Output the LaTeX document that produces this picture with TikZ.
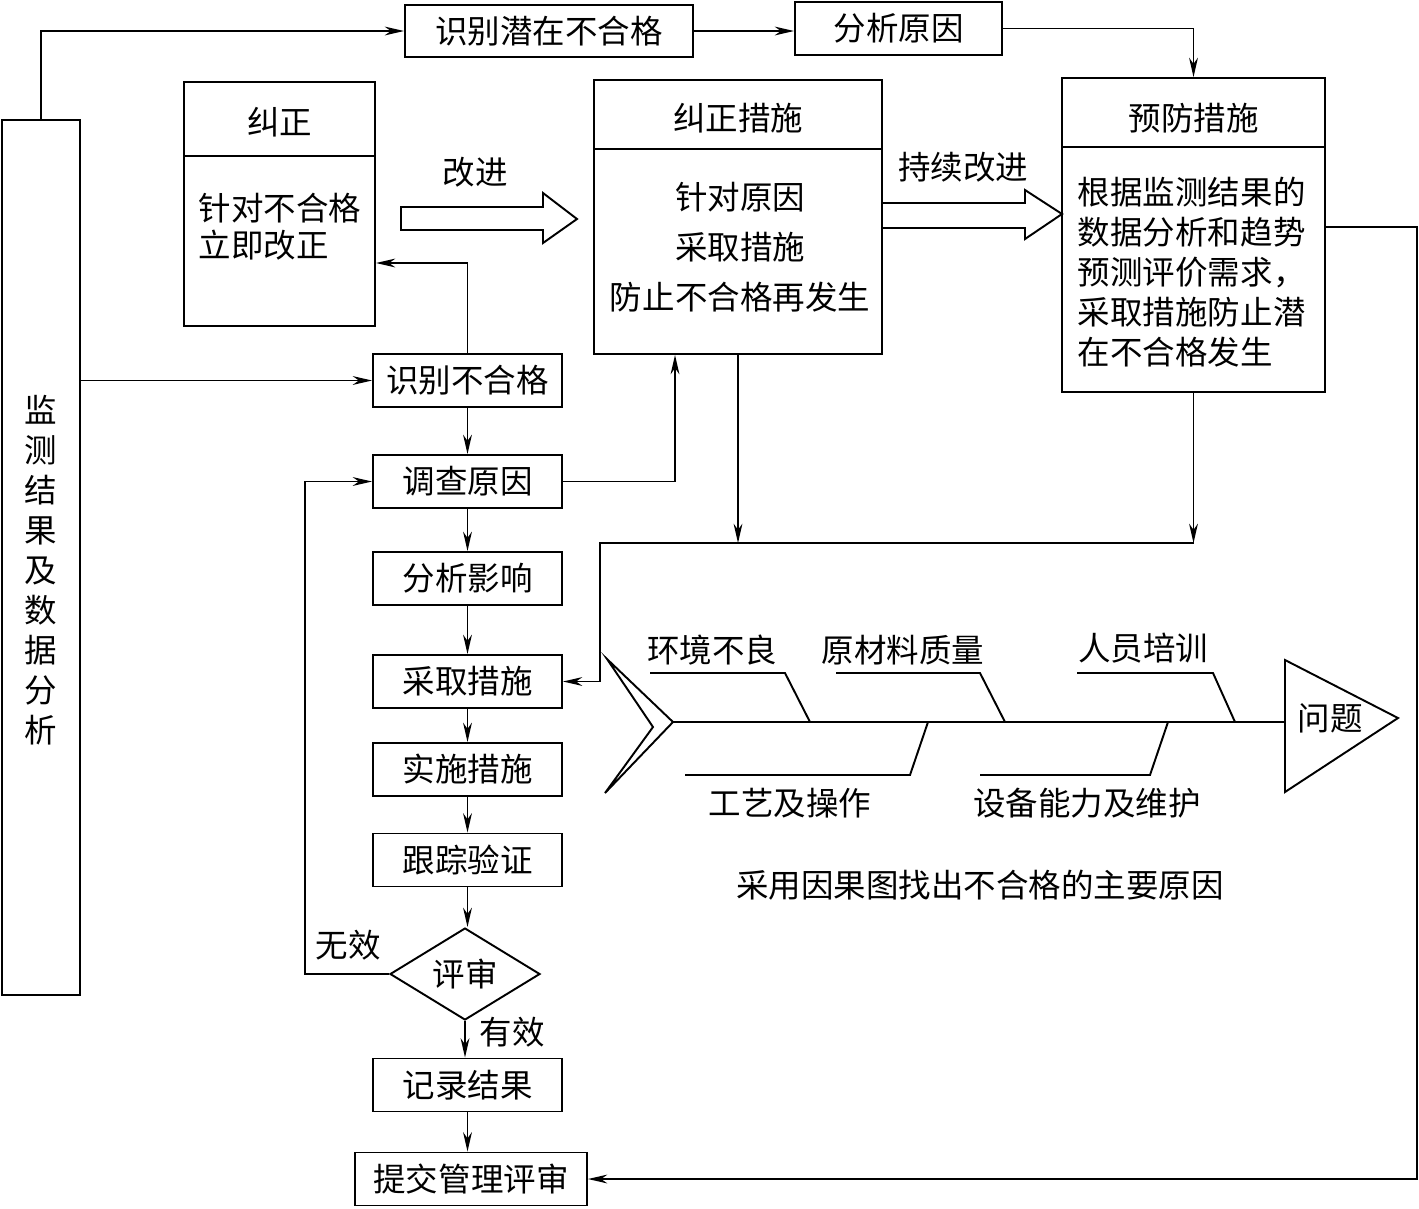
\documentclass[tikz,border=0pt]{standalone}
\usepackage{fontspec}
\setmainfont{Noto Sans CJK SC}
\usetikzlibrary{arrows.meta,shapes.geometric}
\begin{document}
\begin{tikzpicture}[x=0.02cm,y=-0.02cm,line width=1.1pt,
    >={Stealth[length=11pt,width=5pt,inset=3.5pt]},
    every node/.style={font=\fontsize{18.5pt}{22.8pt}\selectfont,inner sep=0pt},
    box/.style={draw,minimum width=3.78cm,minimum height=1.06cm}]
    \useasboundingbox (0,0) rectangle (1419,1208);
    \node[draw,minimum width=1.56cm,minimum height=17.5cm] (jc) at (41,557.5) {};
    \node[align=center] (jctxt) at (41,570) {监\\测\\结\\果\\及\\数\\据\\分\\析};
    \node[draw,minimum width=5.76cm,minimum height=1.04cm] (qz) at (549,31) {识别潜在不合格};
    \node[draw,minimum width=4.14cm,minimum height=1.06cm] (fxyy) at (898.5,28.5) {分析原因};
    \node[draw,minimum width=3.82cm,minimum height=4.88cm] (jz) at (279.5,204) {};
    \draw (jz.west |- 0,156) -- (jz.east |- 0,156);
    \node (jzt) at (279.5,122) {纠正};
    \node[anchor=west,align=left] (jzb) at (198,226.5) {针对不合格\\[-1.8pt]立即改正};
    \node[draw,minimum width=5.76cm,minimum height=5.48cm] (jzcs) at (738,217) {};
    \draw (jzcs.west |- 0,149) -- (jzcs.east |- 0,149);
    \node (jzcst) at (738,118) {纠正措施};
    \node[align=center] (jzcsb) at (740,247) {针对原因\\[5.6pt]采取措施\\[5.6pt]防止不合格再发生};
    \node[draw,minimum width=5.26cm,minimum height=6.28cm] (yfcs) at (1193.5,235) {};
    \draw (yfcs.west |- 0,147) -- (yfcs.east |- 0,147);
    \node (yfcst) at (1193.5,118) {预防措施};
    \node[anchor=west,align=left] (yfcsb) at (1077,272) {根据监测结果的\\数据分析和趋势\\预测评价需求，\\采取措施防止潜\\在不合格发生};
    \foreach \n/\y/\t in {sb/380.5/识别不合格,dc/481.5/调查原因,fx/578.5/分析影响,cq/681.5/采取措施,ss/769.5/实施措施,gz/860/跟踪验证,jl/1085/记录结果}
        \node[box] (\n) at (467.5,\y) {\t};
    \node[draw,diamond,aspect=1.63,minimum width=3cm,minimum height=1.84cm] (ps) at (465,974) {评审};
    \node[box,minimum width=4.64cm] (tj) at (471,1179) {提交管理评审};
    \draw[->] (jc.north) |- (qz.west);
    \draw[->] (qz.east) -- (qz.east -| fxyy.west);
    \draw[->] (fxyy.east) -| (yfcs.north);
    \draw[->] (jc.east |- sb.west) -- (sb.west);
    \draw[->] (sb.north) |- (jz.east |- 0,263);
    \foreach \a/\b in {sb/dc,dc/fx,fx/cq,cq/ss,ss/gz,gz/ps,ps/jl,jl/tj}
        \draw[->] (\a.south) -- (\a.south |- \b.north);
    \node (yx) at (512,1032) {有效};
    \draw[->] (ps.west) -- (305,974) |- (dc.west);
    \node (wx) at (348,945) {无效};
    \draw[->] (dc.east) -| ([xshift=-1.26cm]jzcs.south);
    \draw[->] (jzcs.south) -- (jzcs.south |- 0,543);
    \draw[->] (yfcs.south) -- (yfcs.south |- 0,543) coordinate (hb);
    \draw[->] (hb) -- (600,543) |- (cq.east);
    \draw[->] ([yshift=0.16cm]yfcs.east) -- (1417,227) |- (tj.east);
    \draw (401,207) -- (543,207) -- (543,193) -- (577,219) -- (543,243) -- (543,230) -- (401,230) -- cycle;
    \node (gj) at (475,172) {改进};
    \draw (jzcs.east |- 0,203) -- (1025,203) -- (1025,190) -- (1062,214) -- (1025,239) -- (1025,228) -- (jzcs.east |- 0,228);
    \node (cxgj) at (963,167) {持续改进};
    \draw (607,659) -- (673,722) -- (605,793) -- (653,727) -- cycle;
    \draw (673,722) -- (1285,722);
    \draw (1285,660) -- (1398,718) -- (1285,792) -- cycle;
    \node (wt) at (1330,718) {问题};
    \foreach \a/\b/\c in {650/785/810,836/980/1005,1077/1213/1235}
        \draw (\a,673) -- (\b,673) -- (\c,722);
    \foreach \a/\b/\c in {685/910/928,980/1150/1168}
        \draw (\a,775) -- (\b,775) -- (\c,722);
    \node (hj) at (712,650) {环境不良};
    \node (ycl) at (903,650) {原材料质量};
    \node (rypx) at (1143,648) {人员培训};
    \node (gy) at (790,803) {工艺及操作};
    \node (sbnl) at (1087,803) {设备能力及维护};
    \node (cap) at (980,885) {采用因果图找出不合格的主要原因};
\end{tikzpicture}
\end{document}
